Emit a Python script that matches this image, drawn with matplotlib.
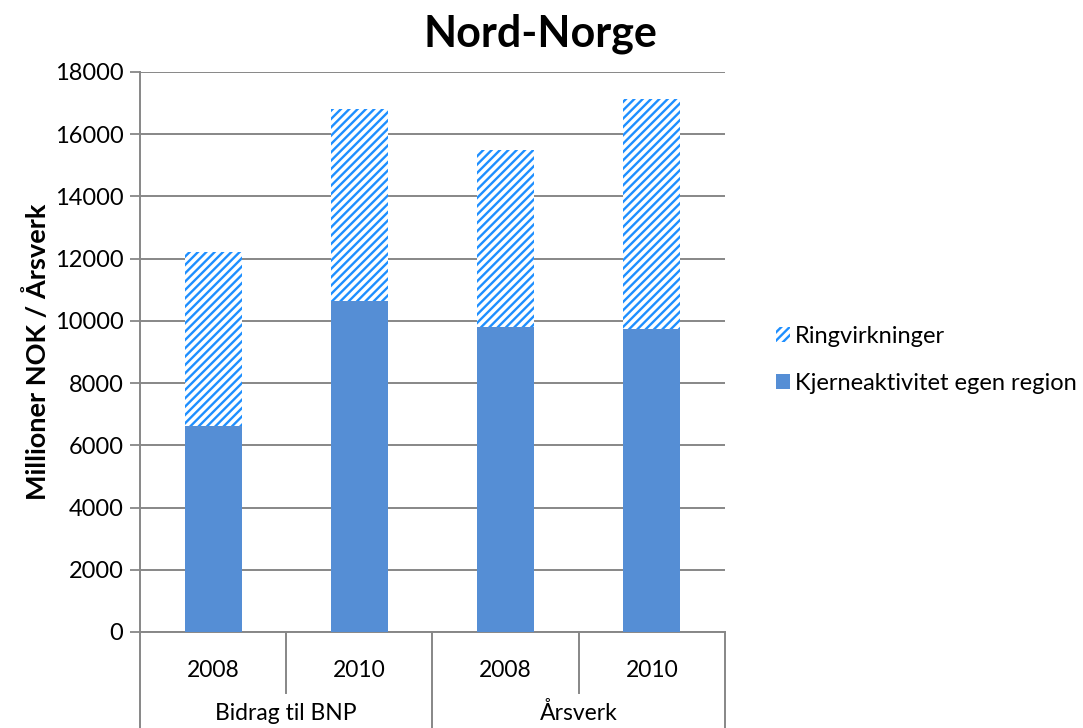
import numpy as np
import matplotlib
matplotlib.use("Agg")
import matplotlib.pyplot as plt
from matplotlib.patches import Patch
import matplotlib.transforms as mtransforms

plt.rcParams["font.family"] = ["Lato", "DejaVu Sans"]
plt.rcParams["hatch.linewidth"] = 1.7
plt.rcParams["hatch.color"] = "#1E8FFF"

years = ["2008", "2010", "2008", "2010"]
groups = ["Bidrag til BNP", "Årsverk"]
kjerne = [6620, 10640, 9800, 9750]
ring = [5610, 6160, 5700, 7370]
yticks = [0, 2000, 4000, 6000, 8000, 10000, 12000, 14000, 16000, 18000]

core_color = "#558ED5"
grid_color = "#878787"

fig = plt.figure(figsize=(10.83, 7.28), dpi=100)
ax = fig.add_axes([0.1293, 0.1319, 0.6694 - 0.1293, 0.9011 - 0.1319])

x = np.arange(len(years))
width = 0.39
ax.bar(x, kjerne, width, color=core_color, edgecolor="none", zorder=3,
       label="Kjerneaktivitet egen region")
ax.bar(x, ring, width, bottom=kjerne, facecolor="white", edgecolor="#1E8FFF",
       hatch="////", linewidth=0, zorder=3, label="Ringvirkninger")

ax.set_xlim(-0.5, len(years) - 0.5)
ax.set_ylim(0, 18000)
ax.set_yticks(yticks)
ax.tick_params(axis="y", labelsize=17, length=7, width=1.3, color=grid_color, pad=5)
ax.yaxis.grid(True, color=grid_color, linewidth=1.4, zorder=0)
ax.set_axisbelow(True)

for side in ["top", "right"]:
    ax.spines[side].set_visible(False)
ax.spines["left"].set_color(grid_color)
ax.spines["bottom"].set_color(grid_color)
ax.spines["left"].set_linewidth(1.4)
ax.spines["bottom"].set_linewidth(1.4)

# two-level category axis
ax.set_xticks(x)
ax.set_xticklabels(years, fontsize=16.5)
ax.tick_params(axis="x", length=0, pad=20)
trans = mtransforms.blended_transform_factory(ax.transData, ax.transAxes)
for i in range(len(years) + 1):
    xpos = i - 0.5
    low = -0.175 if i % 2 == 0 else -0.109
    ax.plot([xpos, xpos], [0, low], transform=trans, color=grid_color,
            linewidth=1.4, clip_on=False)
for g, name in enumerate(groups):
    ax.text(2 * g + 0.5, -0.145, name, transform=trans, ha="center", va="center",
            fontsize=16.5)

ax.set_ylabel("Millioner NOK / Årsverk", fontsize=19.5, fontweight="bold", labelpad=3)
fig.text(0.499, 0.953, "Nord-Norge", ha="center", va="center", fontsize=31,
         fontweight="bold")

handles = [Patch(facecolor="white", edgecolor="#1E8FFF", hatch="////", linewidth=0,
                 label="Ringvirkninger"),
           Patch(facecolor=core_color, edgecolor="none",
                 label="Kjerneaktivitet egen region")]
fig.legend(handles=handles, loc="center left", bbox_to_anchor=(0.697, 0.506),
           frameon=False, fontsize=17, handlelength=0.6, handleheight=0.6,
           handletextpad=0.2, labelspacing=1.1)

fig.savefig("out.png", dpi=100)
